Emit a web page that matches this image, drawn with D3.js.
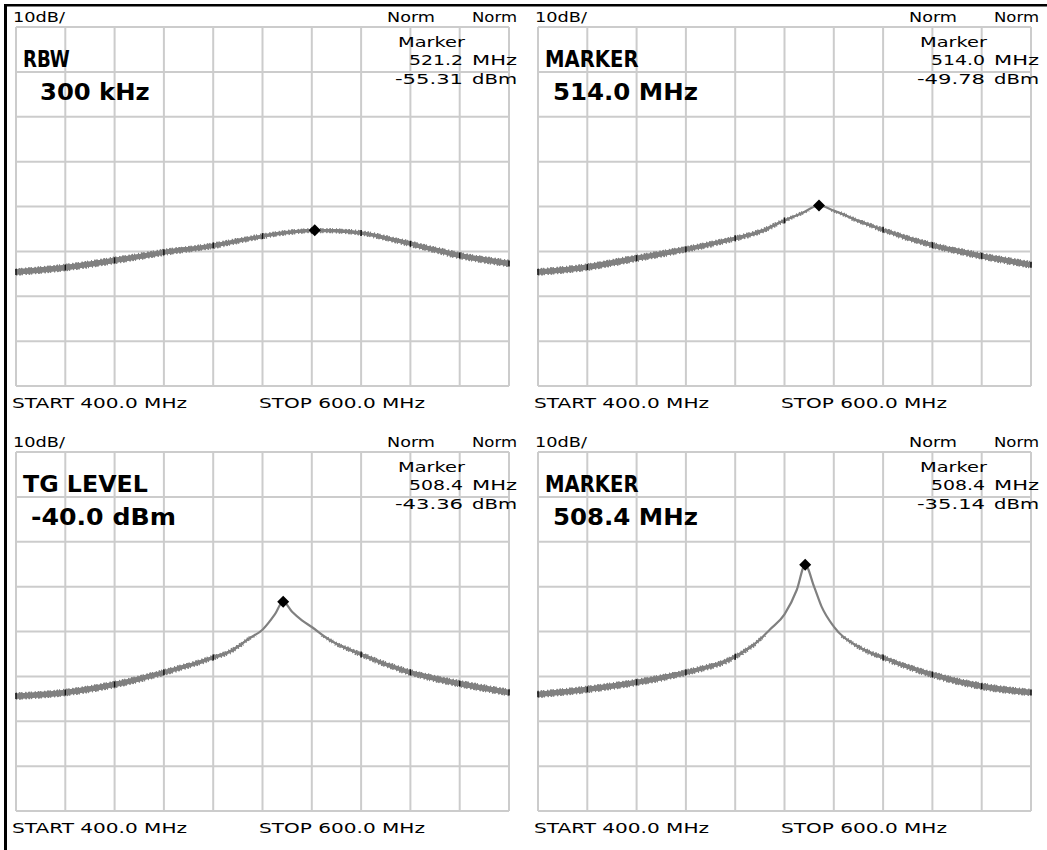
<!DOCTYPE html>
<html>
<head>
<meta charset="utf-8">
<script src="https://cdn.jsdelivr.net/npm/d3@7"></script>
<style>
body { margin: 0; background: #fff; }
text { font-family: "DejaVu Sans", sans-serif; fill: #000; }
</style>
</head>
<body>
<script>
// analyser settings, same on all four screens
var startMHz = 400, stopMHz = 600;
var refLevel = -10, bottomLevel = -90;

var titles = ['RBW', 'MARKER', 'TG LEVEL', 'MARKER'];
var settings = ['300 kHz', '514.0 MHz', '-40.0 dBm', '508.4 MHz'];
var markerMHz = [521.2, 514.0, 508.4, 508.4];
var markerDbm = [-55.31, -49.78, -43.36, -35.14];

var trace1 = [[400,-64.6],[420,-63.6],[440,-62.0],[460,-60.2],[480,-58.7],[500,-56.6],[510,-55.8],
    [521.2,-55.31],[530,-55.4],[540,-55.9],[560,-58.3],[580,-60.9],[600,-62.7]];
var trace2 = [[400,-64.6],[420,-63.5],[440,-61.5],[460,-59.5],[480,-57.1],[490,-55.6],[500,-53.1],
    [507,-51.5],[514,-49.78],[520,-50.9],[530,-53.2],[540,-55.2],[560,-58.6],[580,-61.0],[600,-63.0]];
var trace3 = [[400,-64.4],[420,-63.6],[440,-61.8],[460,-59.1],[480,-55.8],[487,-54.4],[495,-51.4],
    [500,-49.6],[505,-46.2],[508.4,-43.36],[512,-45.6],[516,-47.5],[520,-49.0],[527,-51.8],
    [540,-55.1],[560,-59.1],[580,-61.6],[600,-63.6]];
var trace4 = [[400,-64.0],[420,-62.9],[440,-61.3],[460,-59.1],[480,-55.6],[490,-51.8],[494,-49.6],
    [500,-46.2],[505,-40.7],[508.4,-35.14],[512,-40.0],[515,-44.4],[520,-48.9],[530,-53.4],
    [540,-55.8],[560,-59.6],[580,-62.2],[600,-63.6]];
var traces = [trace1, trace2, trace3, trace4];

var svg = d3.select('body').append('svg')
    .attr('width', 1047)
    .attr('height', 850);

// screen frame
svg.append('rect')
    .attr('x', 4).attr('y', 4)
    .attr('width', 3).attr('height', 846)
    .attr('fill', 'black');
svg.append('rect')
    .attr('x', 4).attr('y', 4)
    .attr('width', 1043).attr('height', 2.5)
    .attr('fill', 'black');

var gridW = 493, gridH = 359;
var panelX = [16, 538], panelY = [27, 452];

var x = d3.scaleLinear().domain([startMHz, stopMHz]).range([0, gridW]);
var y = d3.scaleLinear().domain([refLevel, bottomLevel]).range([0, gridH]);

var line = d3.line()
    .x(function(d) { return x(d[0]); })
    .y(function(d) { return y(d[1]); })
    .curve(d3.curveMonotoneX);

// noise band gets thicker the lower the level
var noise = [
    { below: -61, width: 6.6 },
    { below: -59, width: 6.0 },
    { below: -57, width: 5.3 },
    { below: -55, width: 4.6 },
    { below: -53, width: 3.8 },
    { below: -51, width: 3.0 }
];

function smallText(g, str, left, base, len) {
    g.append('text')
        .attr('x', left).attr('y', base)
        .attr('font-size', 14)
        .attr('textLength', len)
        .attr('lengthAdjust', 'spacingAndGlyphs')
        .text(str);
}

function bigText(g, str, left, base, len) {
    g.append('text')
        .attr('x', left).attr('y', base)
        .attr('font-size', 23)
        .attr('font-weight', 'bold')
        .attr('textLength', len)
        .attr('lengthAdjust', 'spacingAndGlyphs')
        .text(str);
}

traces.forEach(function(trace, i) {
    var g = svg.append('g')
        .attr('transform', 'translate(' + panelX[i % 2] + ',' + panelY[Math.floor(i / 2)] + ')');

    var vLines = d3.range(startMHz, stopMHz + 1, 20);

    g.selectAll('line.v')
        .data(vLines)
        .enter().append('line')
        .attr('class', 'v')
        .attr('x1', function(d) { return x(d); })
        .attr('x2', function(d) { return x(d); })
        .attr('y1', 0).attr('y2', gridH)
        .attr('stroke', '#cccccc')
        .attr('stroke-width', 2);

    g.selectAll('line.h')
        .data(d3.range(refLevel, bottomLevel - 1, -10))
        .enter().append('line')
        .attr('class', 'h')
        .attr('x1', 0).attr('x2', gridW)
        .attr('y1', function(d) { return y(d); })
        .attr('y2', function(d) { return y(d); })
        .attr('stroke', '#cccccc')
        .attr('stroke-width', 2);

    noise.forEach(function(n, j) {
        var id = 'clip' + i + '_' + j;
        g.append('clipPath').attr('id', id)
            .append('rect')
            .attr('x', -5).attr('y', y(n.below))
            .attr('width', gridW + 10)
            .attr('height', gridH - y(n.below) + 10);
        g.append('path')
            .datum(trace)
            .attr('d', line)
            .attr('fill', 'none')
            .attr('stroke', '#808080')
            .attr('stroke-width', n.width - 1.2)
            .attr('clip-path', 'url(#' + id + ')');
        // ragged edge of the noise
        g.append('path')
            .datum(trace)
            .attr('d', line)
            .attr('fill', 'none')
            .attr('stroke', '#808080')
            .attr('stroke-width', n.width + 1)
            .attr('stroke-dasharray', '1 2 1.5 1 1 3')
            .attr('clip-path', 'url(#' + id + ')');
    });

    g.append('path')
        .datum(trace)
        .attr('d', line)
        .attr('fill', 'none')
        .attr('stroke', '#808080')
        .attr('stroke-width', 2.2);

    // the screen draws the trace black where it meets a grid line
    var levelAt = d3.scaleLinear()
        .domain(trace.map(function(d) { return d[0]; }))
        .range(trace.map(function(d) { return d[1]; }));
    g.selectAll('line.tick')
        .data(vLines.filter(function(f) { return levelAt(f) < -52; }))
        .enter().append('line')
        .attr('class', 'tick')
        .attr('x1', function(d) { return x(d); })
        .attr('x2', function(d) { return x(d); })
        .attr('y1', function(d) { return y(levelAt(d)) - 3; })
        .attr('y2', function(d) { return y(levelAt(d)) + 3; })
        .attr('stroke', '#111')
        .attr('stroke-width', 1.5);

    var mx = x(markerMHz[i]), my = y(markerDbm[i]);
    g.append('path')
        .attr('d', 'M' + mx + ',' + (my - 6) + 'L' + (mx + 6) + ',' + my +
            'L' + mx + ',' + (my + 6) + 'L' + (mx - 6) + ',' + my + 'Z')
        .attr('fill', 'black');

    // header and marker readout
    smallText(g, '10dB/', -3, -5, 52);
    smallText(g, 'Norm', 371, -5, 48);
    smallText(g, 'Norm', 456, -5, 45);
    smallText(g, 'Marker', 382, 20, 67);
    smallText(g, markerMHz[i].toFixed(1), 393, 38, 54);
    smallText(g, 'MHz', 456, 38, 45);
    smallText(g, markerDbm[i].toFixed(2), 379, 57, 68);
    smallText(g, 'dBm', 456, 57, 45);

    // settings annotation
    var t = titles[i];
    bigText(g, t, 7, 40, t.length * 15.6);
    var s = settings[i];
    bigText(g, s, s.length === 7 ? 24 : 15, 73, s.length * 16.1 + (s.length === 7 ? -3 : 0));

    smallText(g, 'START 400.0 MHz', -4, 381, 175);
    smallText(g, 'STOP 600.0 MHz', 243, 381, 166);
});
</script>
</body>
</html>
